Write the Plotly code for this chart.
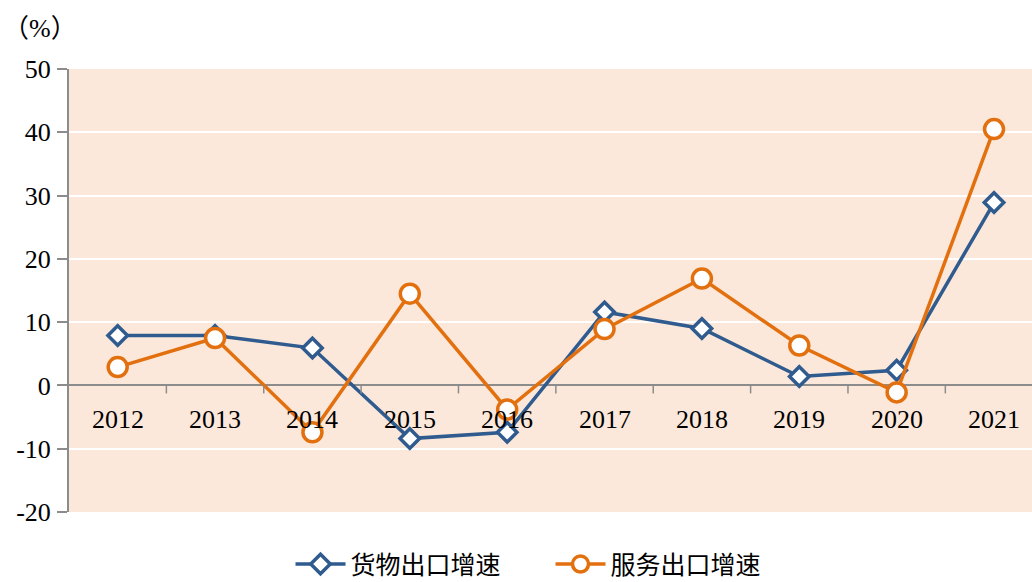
import plotly.graph_objects as go

years = ["2012", "2013", "2014", "2015", "2016", "2017", "2018", "2019", "2020", "2021"]
goods = [7.9, 7.9, 5.9, -8.4, -7.4, 11.6, 9.0, 1.4, 2.4, 28.9]
services = [2.9, 7.5, -7.4, 14.5, -3.8, 8.9, 16.9, 6.3, -1.1, 40.5]
ytick_vals = [-20, -10, 0, 10, 20, 30, 40, 50]
ytick_text = ["-20", "-10", "0", "10", "20", "30", "40", "50"]

BLUE = "#2F5B8E"
ORANGE = "#E3700F"
BG = "#FCE8DB"
AXIS = "#8C8C8C"
SERIF = "Liberation Serif, Times New Roman, serif"
CJK = "Noto Sans CJK SC"

fig = go.Figure()
fig.add_trace(go.Scatter(
    x=years, y=goods, name="货物出口增速", mode="lines+markers",
    line=dict(color=BLUE, width=3.5),
    marker=dict(symbol="diamond", size=15, color="white", line=dict(color=BLUE, width=3.5)),
))
fig.add_trace(go.Scatter(
    x=years, y=services, name="服务出口增速", mode="lines+markers",
    line=dict(color=ORANGE, width=3.5),
    marker=dict(symbol="circle", size=19, color="white", line=dict(color=ORANGE, width=3.5)),
))

# category tick marks below zero line (between categories)
for i in range(len(years)):
    fig.add_shape(type="line", xref="x", yref="y", x0=i + 0.5, x1=i + 0.5,
                  ysizemode="pixel", yanchor=0, y0=0, y1=-8,
                  line=dict(color=AXIS, width=1.5), layer="above")

# category labels along the zero line
for i, yr in enumerate(years):
    fig.add_annotation(x=i, y=0, xref="x", yref="y", text=yr, showarrow=False,
                       xanchor="center", yanchor="middle", yshift=-34,
                       font=dict(family=SERIF, size=26, color="black"))

fig.add_annotation(xref="paper", yref="paper", x=0, y=1, xanchor="left", yanchor="middle",
                   xshift=-68, yshift=41, text="（%）", showarrow=False,
                   font=dict(family=SERIF + ", " + CJK, size=26, color="black"))

fig.update_layout(
    width=1032, height=582,
    margin=dict(l=69, r=0, t=69, b=70, autoexpand=False),
    paper_bgcolor="white", plot_bgcolor=BG,
    showlegend=True,
    legend=dict(orientation="h", x=0.5, xanchor="center", y=-0.118, yanchor="middle",
                font=dict(family=CJK, size=25, color="black"), itemwidth=50,
                entrywidth=195, entrywidthmode="pixels",
                bgcolor="rgba(0,0,0,0)", traceorder="normal"),
    xaxis=dict(type="category", range=[-0.5, 9.39], showticklabels=False, showgrid=False,
               showline=False, ticks="", zeroline=False, automargin=False),
    yaxis=dict(range=[-20, 50], tickvals=ytick_vals, ticktext=ytick_text,
               showgrid=True, gridcolor="white", gridwidth=2,
               zeroline=True, zerolinecolor=AXIS, zerolinewidth=2,
               showline=True, linecolor=AXIS, linewidth=2,
               ticks="outside", ticklen=10, tickcolor=AXIS, tickwidth=1.5,
               ticklabelstandoff=1, automargin=False,
               tickfont=dict(family=SERIF, size=26, color="black")),
)

fig.write_html("out.html", config={"displayModeBar": False},
               post_script="document.body.style.margin='0';document.body.style.overflow='hidden';")
